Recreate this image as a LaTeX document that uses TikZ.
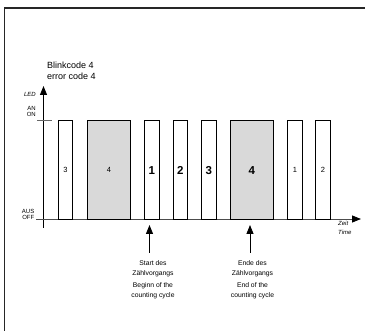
\documentclass[tikz,border=0pt]{standalone}
\usepackage{fontspec}
\setmainfont{Liberation Sans}
\usetikzlibrary{arrows.meta}
\begin{document}
\begin{tikzpicture}[x=1pt,y=-1pt,
  pulse/.style={draw=black,line width=1.3pt,fill=white,inner sep=0pt,anchor=north west,minimum height=99pt,minimum width=14.5pt},
  longpulse/.style={pulse,fill=black!15,minimum width=42.5pt},
  smalldigit/.style={font=\fontsize{7.5}{8}\selectfont},
  bigdigit/.style={font=\fontsize{11.5}{12}\selectfont\bfseries},
  axlabel/.style={font=\fontsize{6}{6.5}\selectfont,inner sep=0pt,anchor=east},
  note/.style={font=\fontsize{6.8}{10}\selectfont,align=center,inner sep=0pt,anchor=north},
  axisarrow/.style={-{Triangle[width=7pt,length=9pt]}},
  frameline/.style={line width=1.5pt,black!85}
]
\useasboundingbox (0,0) rectangle (365,331);
% frame
\coordinate (fa) at (4.5,331);
\coordinate (fb) at (4.5,8);
\coordinate (fc) at (365,8);
\draw[frameline] (fa) -- (fb) -- (fc);

% title
\node[font=\fontsize{9}{11}\selectfont,align=left,anchor=north west,inner sep=0pt] (title) at (47,62) {Blinkcode 4\\error code 4};

% axes
\coordinate (yb) at (43.5,228);
\coordinate (yt) at (43.5,86);
\draw[line width=0.8pt,axisarrow] (yb) -- (yt);
\coordinate (xl) at (36,219);
\coordinate (xr) at (361,219);
\draw[line width=0.8pt,black!70,axisarrow,arrows={-{Triangle[width=7pt,length=9pt,black]}}] (xl) -- (xr);
\coordinate (onl) at (37,120.5);
\coordinate (onr) at (52,120.5);
\draw[line width=0.8pt,black!60] (onl) -- (onr);

\node[axlabel,font=\fontsize{6}{6.5}\selectfont\itshape] (led) at (36,94) {LED};
\node[axlabel] (an) at (36,108.5) {AN};
\node[axlabel] (on) at (36,114.5) {ON};
\node[axlabel] (aus) at (34.5,211) {AUS};
\node[axlabel] (off) at (34.5,217.5) {OFF};
\node[axlabel,anchor=west,font=\fontsize{6}{6.5}\selectfont\itshape] (zeit) at (338,223.5) {Zeit};
\node[axlabel,anchor=west,font=\fontsize{6}{6.5}\selectfont\itshape] (time) at (338,232.5) {Time};

% pulses
\node[pulse] (b1) at (57.5,120) {};
\node[smalldigit] at (b1.center) {3};
\node[longpulse] (g1) at (87,120) {};
\node[smalldigit] at (g1.center) {4};
\node[pulse] (b2) at (144,120) {};
\node[bigdigit] at (b2.center) {1};
\node[pulse] (b3) at (172.5,120) {};
\node[bigdigit] at (b3.center) {2};
\node[pulse] (b4) at (201,120) {};
\node[bigdigit] at (b4.center) {3};
\node[longpulse] (g2) at (230,120) {};
\node[bigdigit] at (g2.center) {4};
\node[pulse] (b5) at (287,120) {};
\node[smalldigit] at (b5.center) {1};
\node[pulse] (b6) at (315,120) {};
\node[smalldigit] at (b6.center) {2};

% markers
\node[note] (startlbl) at (153,260) {Start des\\Zählvorgangs\\[2.5pt]Beginn of the\\counting cycle};
\node[note] (endlbl) at (252.5,260) {Ende des\\Zählvorgangs\\[2.5pt]End of the\\counting cycle};
\coordinate (s1) at (149.5,253);
\coordinate (s2) at (149.5,225);
\coordinate (e1) at (250,253);
\coordinate (e2) at (250,225);
\draw[line width=0.8pt,axisarrow] (s1) -- (s2);
\draw[line width=0.8pt,axisarrow] (e1) -- (e2);
\end{tikzpicture}
\end{document}
